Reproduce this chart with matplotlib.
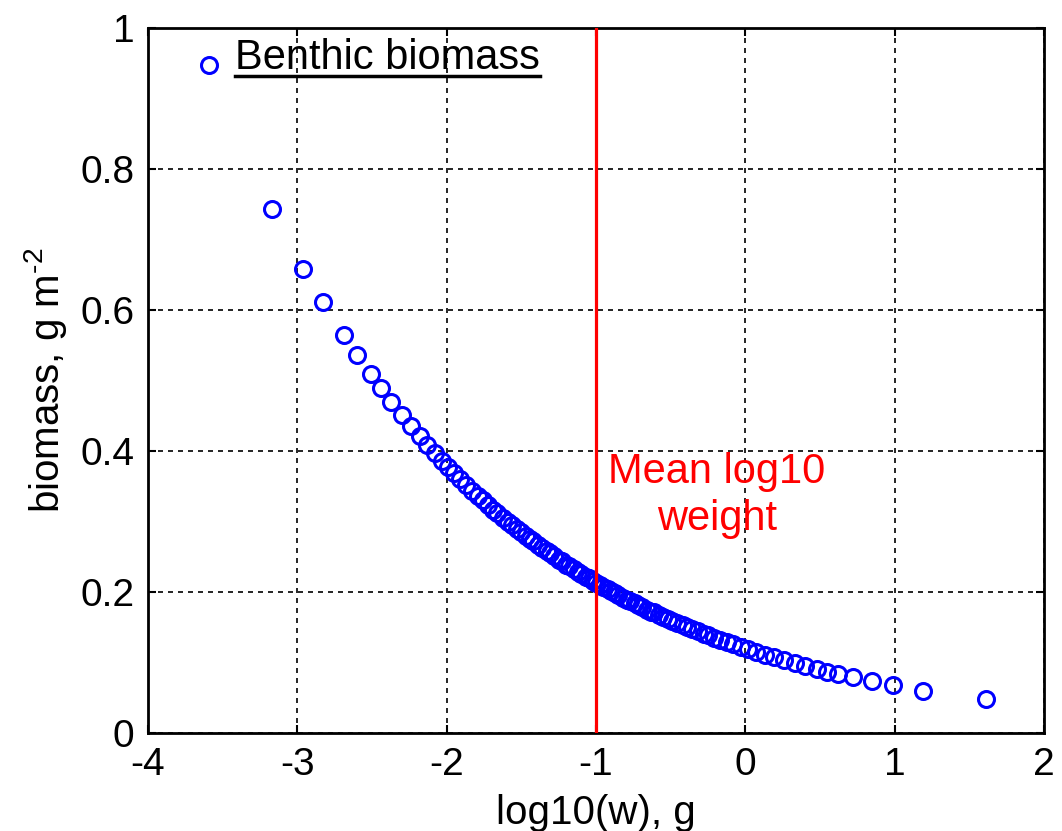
import matplotlib
matplotlib.use('Agg')
import matplotlib.pyplot as plt
from matplotlib.lines import Line2D

plt.rcParams['font.family'] = ['Liberation Sans', 'DejaVu Sans']
plt.rcParams['mathtext.fontset'] = 'custom'
plt.rcParams['mathtext.rm'] = 'Liberation Sans'

# size classes, sorted log10 weight (g)
log10_w = [-3.59, -3.17, -2.96, -2.83, -2.69, -2.60, -2.51, -2.44, -2.37, -2.30,
           -2.24, -2.18, -2.13, -2.08, -2.03, -1.99, -1.95, -1.91, -1.87, -1.83,
           -1.79, -1.76, -1.72, -1.69, -1.66, -1.62, -1.59, -1.56, -1.53, -1.50,
           -1.47, -1.44, -1.42, -1.39, -1.36, -1.33, -1.31, -1.28, -1.25, -1.23,
           -1.20, -1.18, -1.15, -1.12, -1.10, -1.07, -1.05, -1.02, -1.00, -0.97,
           -0.95, -0.92, -0.90, -0.87, -0.85, -0.82, -0.79, -0.77, -0.74, -0.72,
           -0.69, -0.66, -0.63, -0.61, -0.58, -0.55, -0.52, -0.49, -0.46, -0.42,
           -0.39, -0.36, -0.32, -0.28, -0.25, -0.21, -0.17, -0.12, -0.08, -0.03,
           0.02, 0.07, 0.13, 0.19, 0.26, 0.33, 0.40, 0.48, 0.55, 0.62,
           0.72, 0.85, 0.99, 1.19, 1.61]

# benthic biomass per size class, g m^-2
biomass = [0.948, 0.744, 0.659, 0.612, 0.564, 0.536, 0.509, 0.489, 0.470, 0.451,
           0.436, 0.421, 0.409, 0.397, 0.386, 0.377, 0.369, 0.360, 0.352, 0.344,
           0.336, 0.330, 0.323, 0.317, 0.312, 0.305, 0.300, 0.295, 0.290, 0.285,
           0.280, 0.275, 0.272, 0.267, 0.263, 0.258, 0.255, 0.251, 0.246, 0.244,
           0.239, 0.237, 0.233, 0.229, 0.226, 0.222, 0.220, 0.216, 0.213, 0.210,
           0.207, 0.204, 0.201, 0.198, 0.196, 0.192, 0.189, 0.187, 0.184, 0.182,
           0.179, 0.175, 0.172, 0.171, 0.168, 0.165, 0.162, 0.159, 0.156, 0.153,
           0.150, 0.148, 0.144, 0.141, 0.139, 0.135, 0.132, 0.129, 0.126, 0.122,
           0.119, 0.115, 0.111, 0.108, 0.103, 0.099, 0.095, 0.091, 0.087, 0.084,
           0.079, 0.074, 0.068, 0.060, 0.048]

mean_log10_w = -1.0

xticks = [-4, -3, -2, -1, 0, 1, 2]
yticks = [0, 0.2, 0.4, 0.6, 0.8, 1]
ytick_labels = ['0', '0.2', '0.4', '0.6', '0.8', '1']

fig = plt.figure(figsize=(10.62, 8.31), dpi=100)
ax = fig.add_axes([0.1394, 0.118, 0.8436, 0.848])

ax.plot(log10_w, biomass, 'o', mfc='none', mec='#0000ff', ms=11.5, mew=2.2, zorder=3)
ax.axvline(mean_log10_w, color='#ff0000', lw=2.3, zorder=4)

ax.set_xlim(-4, 2)
ax.set_ylim(0, 1)
ax.set_xticks(xticks)
ax.set_xticklabels([str(t) for t in xticks])
ax.set_yticks(yticks)
ax.set_yticklabels(ytick_labels)
ax.tick_params(direction='in', top=True, right=True, length=6, width=1.5,
               labelsize=28, pad=10)
ax.grid(True, color='black', linestyle=(0, (3, 3)), lw=1.2)
for s in ax.spines.values():
    s.set_linewidth(2)

ax.set_xlabel('log10(w), g', fontsize=29, labelpad=8)
ax.set_ylabel(r'biomass, g m$^{\mathrm{\text{-}2}}$', fontsize=29, labelpad=8)

ax.text(-0.19, 0.337, 'Mean log10\nweight', color='#ff0000', fontsize=30,
        ha='center', va='center', linespacing=1.25, zorder=5)

title = ax.text(-3.417, 0.958, 'Benthic biomass', color='black', fontsize=30,
                ha='left', va='center', zorder=5)

# underline the panel title
fig.canvas.draw()
bb = title.get_window_extent().transformed(fig.transFigure.inverted())
y_ul = bb.y0 + 0.002
fig.add_artist(Line2D([bb.x0, bb.x1], [y_ul, y_ul], color='black', lw=2.5,
                      transform=fig.transFigure))

fig.savefig('out.png', dpi=100)
